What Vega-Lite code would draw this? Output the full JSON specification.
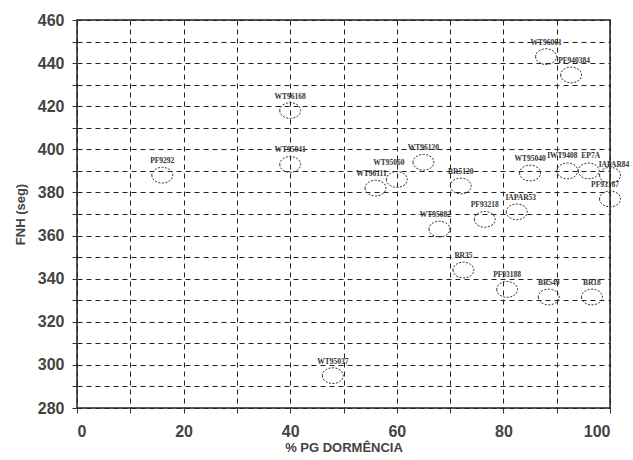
{
  "$schema": "https://vega.github.io/schema/vega-lite/v6.json",
  "width": 533,
  "height": 388,
  "autosize": {"type": "none"},
  "padding": {"left": 77, "top": 20, "right": 23, "bottom": 52},
  "background": "white",
  "config": {
    "view": {"stroke": "#222", "strokeWidth": 1.5},
    "text": {"font": "Liberation Serif", "fontWeight": "bold", "fontSize": 7.5, "color": "#333"},
    "axis": {
      "grid": true,
      "gridColor": "#222",
      "gridDash": [5, 4],
      "gridOpacity": 1,
      "gridWidth": 1,
      "domain": false,
      "tickColor": "#333",
      "tickSize": 5,
      "labelFont": "Liberation Sans",
      "labelFontWeight": "bold",
      "labelFontSize": 16,
      "labelColor": "#444",
      "titleFont": "Liberation Sans",
      "titleFontWeight": "bold",
      "titleFontSize": 13,
      "titleColor": "#444"
    }
  },
  "data": {
    "values": [
      {"g": "PF9292", "x": 16, "y": 388},
      {"g": "WT96168", "x": 40, "y": 418},
      {"g": "WT95041", "x": 40, "y": 393},
      {"g": "WT96111", "x": 56, "y": 382},
      {"g": "WT95060", "x": 60, "y": 386},
      {"g": "WT96120", "x": 65, "y": 394},
      {"g": "BR5120", "x": 72, "y": 383},
      {"g": "WT95082", "x": 68, "y": 363},
      {"g": "PF93218", "x": 76.5, "y": 367.5},
      {"g": "IAPAR53", "x": 82.5, "y": 371},
      {"g": "WT95040", "x": 85, "y": 389},
      {"g": "IWT9408", "x": 92, "y": 390},
      {"g": "EP7A", "x": 96, "y": 390},
      {"g": "IAPAR84", "x": 100, "y": 388},
      {"g": "PF93167", "x": 100, "y": 377},
      {"g": "WT96061", "x": 88, "y": 443},
      {"g": "PF940384", "x": 92.7, "y": 434.5},
      {"g": "BR35", "x": 72.5, "y": 344},
      {"g": "PF93188", "x": 80.7, "y": 335},
      {"g": "BR549", "x": 88.5, "y": 331.5},
      {"g": "BR18", "x": 96.6, "y": 331.5},
      {"g": "WT95037", "x": 48, "y": 295}
    ]
  },
  "encoding": {
    "x": {
      "field": "x", "type": "quantitative",
      "scale": {"domain": [0, 100], "nice": false, "zero": false},
      "axis": {
        "title": "% PG DORMÊNCIA",
        "values": [0, 10, 20, 30, 40, 50, 60, 70, 80, 90, 100],
        "labelExpr": "datum.value % 20 == 0 ? datum.label : ''",
        "labelPadding": 10,
        "titlePadding": 2
      }
    },
    "y": {
      "field": "y", "type": "quantitative",
      "scale": {"domain": [280, 460], "nice": false, "zero": false},
      "axis": {
        "title": "FNH (seg)",
        "values": [280, 290, 300, 310, 320, 330, 340, 350, 360, 370, 380, 390, 400, 410, 420, 430, 440, 450, 460],
        "labelExpr": "datum.value % 20 == 0 ? datum.label : ''",
        "labelPadding": 8,
        "titlePadding": 10
      }
    },
    "text": {"field": "g"}
  },
  "layer": [
    {
      "mark": {
        "type": "point",
        "shape": "M -1 0 A 1 0.75 0 1 0 1 0 A 1 0.75 0 1 0 -1 0 Z",
        "size": 440,
        "filled": false,
        "stroke": "#333",
        "strokeWidth": 1,
        "strokeDash": [2, 1.5],
        "opacity": 1
      }
    },
    {
      "transform": [{"filter": {"not": {"field": "g", "oneOf": ["WT96111", "WT95060", "WT95082", "IAPAR53", "IWT9408", "EP7A", "IAPAR84", "PF93167", "PF940384"]}}}],
      "mark": {"type": "text", "dy": -14}
    },
    {
      "transform": [{"filter": {"field": "g", "oneOf": ["WT96111", "WT95082"]}}],
      "mark": {"type": "text", "dy": -14, "dx": -4}
    },
    {
      "transform": [{"filter": {"field": "g", "equal": "WT95060"}}],
      "mark": {"type": "text", "dy": -17, "dx": -8}
    },
    {
      "transform": [{"filter": {"field": "g", "equal": "IAPAR53"}}],
      "mark": {"type": "text", "dy": -14, "dx": 4}
    },
    {
      "transform": [{"filter": {"field": "g", "equal": "IWT9408"}}],
      "mark": {"type": "text", "dy": -15, "dx": -5}
    },
    {
      "transform": [{"filter": {"field": "g", "equal": "EP7A"}}],
      "mark": {"type": "text", "dy": -15, "dx": 2}
    },
    {
      "transform": [{"filter": {"field": "g", "equal": "IAPAR84"}}],
      "mark": {"type": "text", "dy": -10, "dx": 4}
    },
    {
      "transform": [{"filter": {"field": "g", "equal": "PF93167"}}],
      "mark": {"type": "text", "dy": -14, "dx": -5}
    },
    {
      "transform": [{"filter": {"field": "g", "equal": "PF940384"}}],
      "mark": {"type": "text", "dy": -14, "dx": 3}
    }
  ]
}
